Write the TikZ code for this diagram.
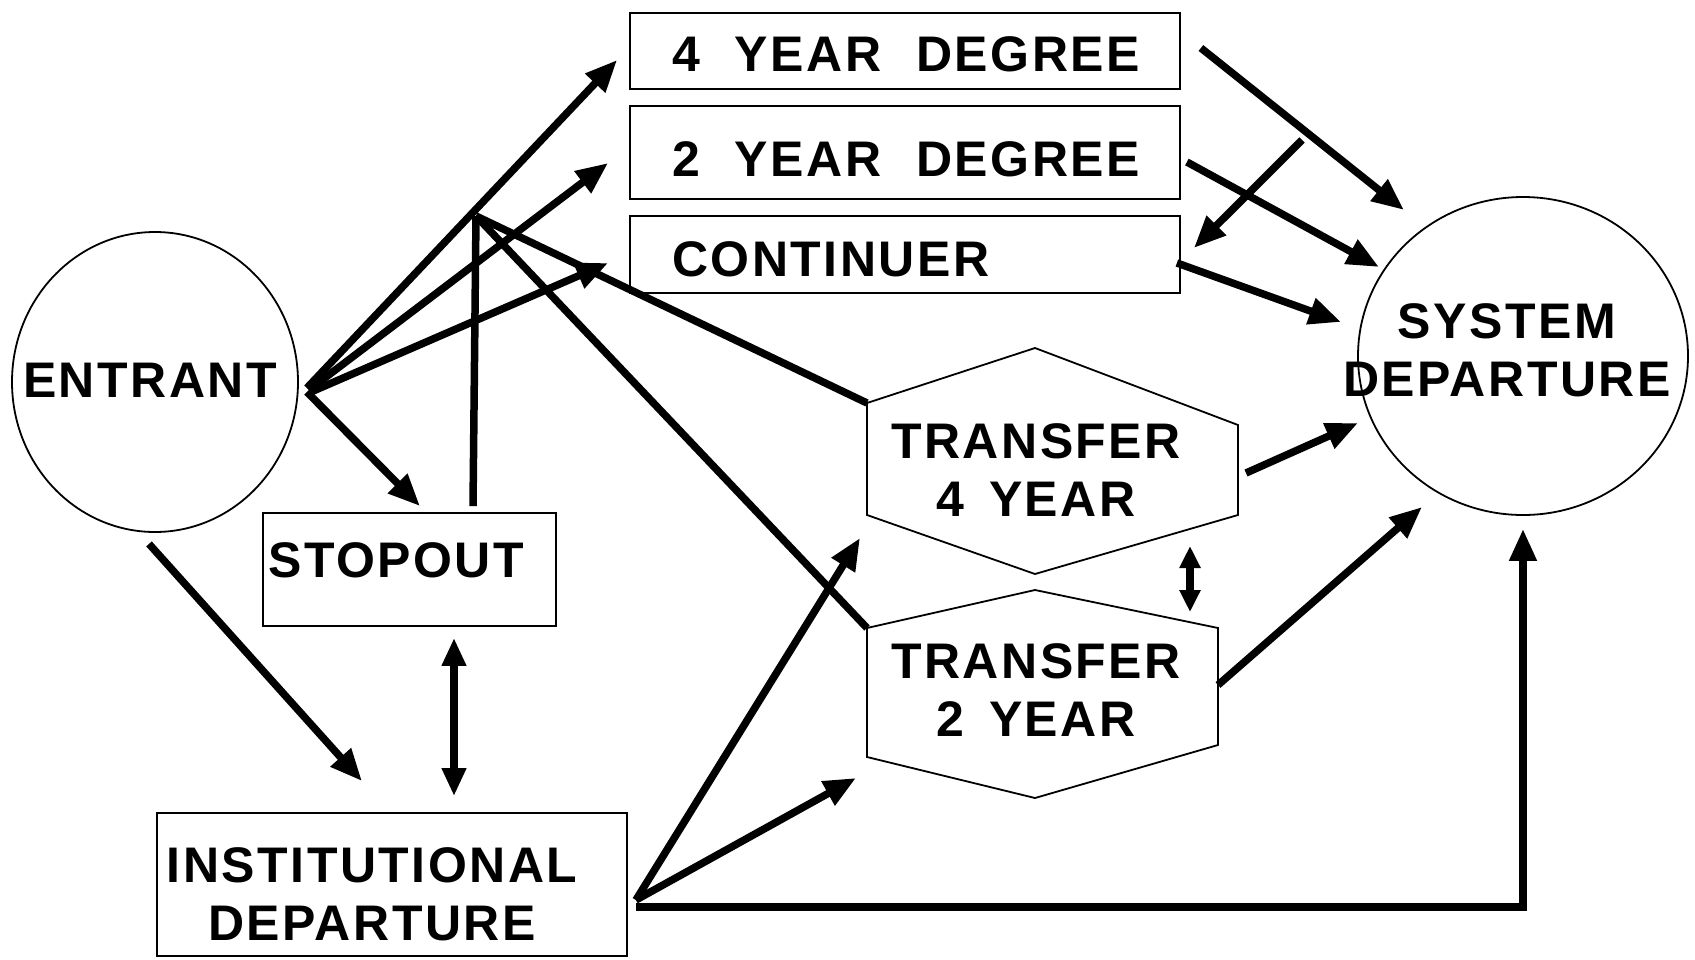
\documentclass[tikz,border=0pt]{standalone}
\usepackage{fontspec}
\setmainfont{Liberation Sans}[LetterSpace=5]
\usetikzlibrary{arrows.meta,shapes.geometric,calc}
\begin{document}
\begin{tikzpicture}[x=1pt,y=-1pt,
  every node/.style={font=\fontsize{50}{58}\selectfont\bfseries},
  shp/.style={draw, line width=1.8pt},
  box/.style={shp, rectangle, inner sep=0pt},
  conn/.style={line width=7.5pt},
  arr/.style={conn, -{Triangle[length=32pt,width=26pt]}},
  darr/.style={conn, {Triangle[length=28pt,width=23pt]}-{Triangle[length=28pt,width=23pt]}},
  sdarr/.style={conn, {Triangle[length=22pt,width=20pt]}-{Triangle[length=22pt,width=20pt]}},
  lbl/.style={inner sep=0pt}
]
\useasboundingbox (0,0) rectangle (1695,959);

% shapes
\node[shp, ellipse, minimum width=286pt, minimum height=300pt, inner sep=0pt] (ent) at (155,382) {};
\node[lbl] (entT) at (150,380) {ENTRANT};
\node[shp, ellipse, minimum width=330pt, minimum height=318pt, inner sep=0pt] (sys) at (1523,356) {};
\node[lbl, align=center] (sysT) at (1507,350) {SYSTEM\\DEPARTURE};

\node[box, minimum width=550pt, minimum height=76pt] (deg4) at (905,51) {};
\node[lbl, anchor=west] (deg4T) at (672,54) {\mbox{4\hspace{0.7em}YEAR\hspace{0.7em}DEGREE}};
\node[box, minimum width=550pt, minimum height=93pt] (deg2) at (905,152.5) {};
\node[lbl, anchor=west] (deg2T) at (672,159) {\mbox{2\hspace{0.7em}YEAR\hspace{0.7em}DEGREE}};
\node[box, minimum width=550pt, minimum height=77pt] (cont) at (905,254.5) {};
\node[lbl, anchor=west] (contT) at (672,259) {CONTINUER};

\node[box, minimum width=293pt, minimum height=113pt] (stop) at (409.5,569.5) {};
\node[lbl, anchor=west] (stopT) at (268,560) {STOPOUT};
\node[box, minimum width=470pt, minimum height=143pt] (inst) at (392,884.5) {};
\node[lbl, align=center] (instT) at (372,894) {INSTITUTIONAL\\DEPARTURE};

% hexagons
\coordinate (t4a) at (1035,348);
\coordinate (t4b) at (1238,425);
\coordinate (t4c) at (1238,515);
\coordinate (t4d) at (1035,574);
\coordinate (t4e) at (867,515);
\coordinate (t4f) at (867,403);
\draw[shp] (t4a)--(t4b)--(t4c)--(t4d)--(t4e)--(t4f)--cycle;
\node[lbl, align=center] (t4T) at (1036,470) {TRANSFER\\4\hspace{0.5em}YEAR};

\coordinate (t2a) at (1035,590);
\coordinate (t2b) at (1218,628);
\coordinate (t2c) at (1218,745);
\coordinate (t2d) at (1035,798);
\coordinate (t2e) at (867,757);
\coordinate (t2f) at (867,628);
\draw[shp] (t2a)--(t2b)--(t2c)--(t2d)--(t2e)--(t2f)--cycle;
\node[lbl, align=center] (t2T) at (1036,690) {TRANSFER\\2\hspace{0.5em}YEAR};

% connectors from ENTRANT
\draw[arr] ($(ent.east)+(8,6)$) -- ($(deg4.west)+(-12,9)$);
\draw[arr] ($(ent.east)+(10,8)$) -- ($(deg2.west)+(-21,10.5)$);
\draw[arr] ($(ent.east)+(12,10)$) -- ($(cont.west)+(-21,8.5)$);
\draw[arr] ($(ent.east)+(8,10)$) -- ($(stop.north)+(10.5,-6)$);
\draw[arr] ($(ent.south)+(-6,11)$) -- ($(inst.north)+(-30,-31)$);

% stopout return lines
\coordinate (J) at (476,216);
\draw[conn] ($(stop.north)+(63.5,-6)$) -- (J);
\draw[conn] (J) -- (t4f);
\draw[conn] (J) -- (t2f);

% to system departure
\draw[arr] ($(deg4.east)+(20,-3)$) -- ($(sys.center)+(-119,-146)$);
\draw[arr] ($(deg2.east)+(6,9.5)$) -- ($(sys.center)+(-144,-89)$);
\draw[arr] ($(cont.east)+(-4,8.5)$) -- ($(sys.center)+(-182,-34)$);
\coordinate (crs) at (1302,140);
\draw[arr] (crs) -- ($(cont.east)+(13,-6.5)$);
\draw[arr] ($(t4c)+(8,-42)$) -- ($(sys.center)+(-165,67)$);
\draw[arr] ($(t2c)+(0,-60)$) -- ($(sys.center)+(-101,151)$);
\draw[sdarr] ($(t4c)+(-48,31)$) -- ($(t2b)+(-28,-16)$);

% stopout / institutional departure
\draw[darr] ($(stop.south)+(44.5,11)$) -- ($(inst.north)+(62,-16)$);

% from institutional departure
\draw[arr] ($(inst.east)+(8,15.5)$) -- ($(t4e)+(-7,23)$);
\draw[arr] ($(inst.east)+(8,15.5)$) -- ($(t2e)+(-11,21)$);
\draw[arr] ($(inst.east)+(8,22.5)$) -| ($(sys.south)+(0,13)$);
\end{tikzpicture}
\end{document}
